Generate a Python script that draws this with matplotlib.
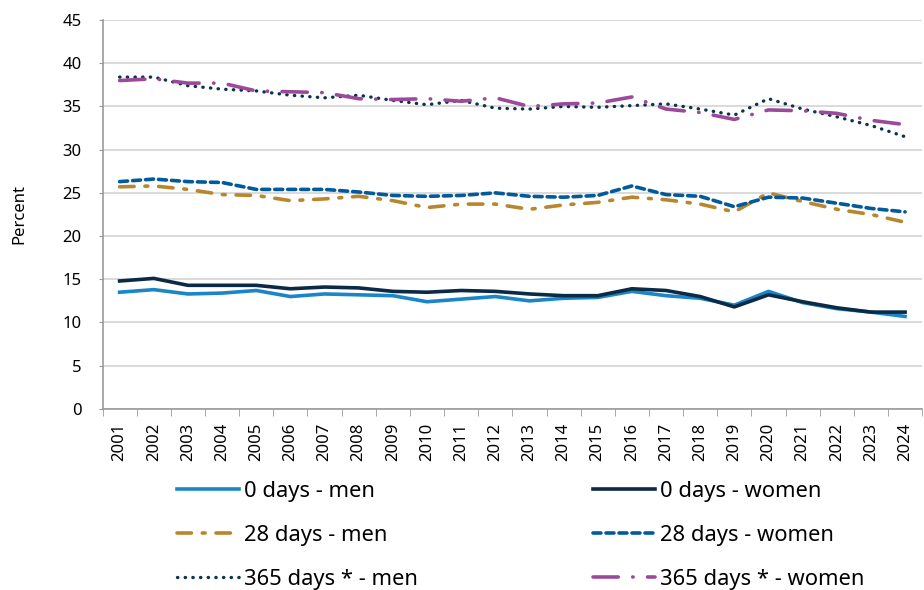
import numpy as np
import matplotlib.pyplot as plt

plt.rcParams['font.family'] = ['Noto Sans', 'DejaVu Sans']

years = list(range(2001, 2025))

zero_men = [13.5, 13.8, 13.3, 13.4, 13.7, 13.0, 13.3, 13.2, 13.1, 12.4, 12.7, 13.0,
            12.5, 12.8, 12.9, 13.6, 13.1, 12.8, 12.0, 13.6, 12.3, 11.6, 11.2, 10.7]
zero_women = [14.8, 15.1, 14.3, 14.3, 14.3, 13.9, 14.1, 14.0, 13.6, 13.5, 13.7, 13.6,
              13.3, 13.1, 13.1, 13.9, 13.7, 13.0, 11.8, 13.2, 12.4, 11.7, 11.2, 11.2]
d28_men = [25.7, 25.8, 25.4, 24.8, 24.7, 24.1, 24.3, 24.6, 24.1, 23.3, 23.7, 23.7,
           23.1, 23.6, 23.9, 24.5, 24.2, 23.7, 22.8, 25.0, 24.0, 23.1, 22.5, 21.6]
d28_women = [26.3, 26.6, 26.3, 26.2, 25.4, 25.4, 25.4, 25.1, 24.7, 24.6, 24.7, 25.0,
             24.6, 24.5, 24.7, 25.8, 24.8, 24.6, 23.4, 24.5, 24.4, 23.8, 23.2, 22.8]
d365_men = [38.4, 38.4, 37.4, 37.0, 36.8, 36.3, 36.0, 36.3, 35.7, 35.2, 35.7, 34.8,
            34.7, 35.0, 34.9, 35.1, 35.3, 34.7, 34.0, 35.9, 34.7, 33.8, 32.8, 31.5]
d365_women = [38.0, 38.2, 37.7, 37.7, 36.8, 36.7, 36.6, 35.9, 35.8, 35.9, 35.6, 36.0,
              35.0, 35.3, 35.4, 36.1, 34.7, 34.3, 33.5, 34.6, 34.5, 34.2, 33.4, 32.9]

fig = plt.figure(figsize=(9.24, 5.9), dpi=100)
ax = fig.add_axes([0.111, 0.307, 0.887, 0.659])

x = np.arange(len(years))
lw = 2.6
l0m, = ax.plot(x, zero_men, color='#1a86c8', lw=lw, label='0 days - men')
l0w, = ax.plot(x, zero_women, color='#0b2a45', lw=lw, label='0 days - women')
l28m, = ax.plot(x, d28_men, color='#b8862e', lw=lw, dashes=(4, 3, 0.8, 3),
                dash_capstyle='round', label='28 days - men')
l28w, = ax.plot(x, d28_women, color='#005a9c', lw=lw, dashes=(2.2, 1.4),
                dash_capstyle='round', label='28 days - women')
l365m, = ax.plot(x, d365_men, color='#0b3350', lw=2.4, dashes=(0.1, 2.2),
                 dash_capstyle='round', label='365 days * - men')
l365w, = ax.plot(x, d365_women, color='#9b4a9b', lw=lw, dashes=(7, 4, 0.1, 4),
                 dash_capstyle='round', label='365 days * - women')

ax.set_xlim(-0.5, len(years) - 0.5)
ax.set_ylim(0, 45)
ax.set_yticks(range(0, 46, 5))
ax.set_xticks(x)
ax.set_xticklabels([str(y) for y in years], rotation=90)
ax.set_xticks(np.arange(-0.5, len(years), 1), minor=True)
ax.tick_params(axis='x', which='major', length=0, pad=10, labelsize=12)
ax.tick_params(axis='x', which='minor', length=5, color='#999999')
ax.tick_params(axis='y', length=3, color='#999999', labelsize=12, pad=12)

ax.grid(axis='y', color='#d4d4d4', lw=1.2)
ax.set_axisbelow(True)
for s in ['top', 'right']:
    ax.spines[s].set_visible(False)
ax.spines['left'].set_color('#999999')
ax.spines['bottom'].set_color('#999999')
ax.spines['left'].set_linewidth(1.2)
ax.spines['bottom'].set_linewidth(1.2)

ax.set_ylabel('Percent', fontsize=12, labelpad=25)

handles = [l0m, l28m, l365m, l0w, l28w, l365w]
fig.legend(handles=handles, labels=[h.get_label() for h in handles],
           loc='upper left', bbox_to_anchor=(0.1825, 0.2), ncol=2, frameon=False,
           fontsize=15.8, handlelength=2.8, handletextpad=0.23, columnspacing=8.0,
           labelspacing=1.05, borderaxespad=0)

fig.savefig('out.png', dpi=100)
